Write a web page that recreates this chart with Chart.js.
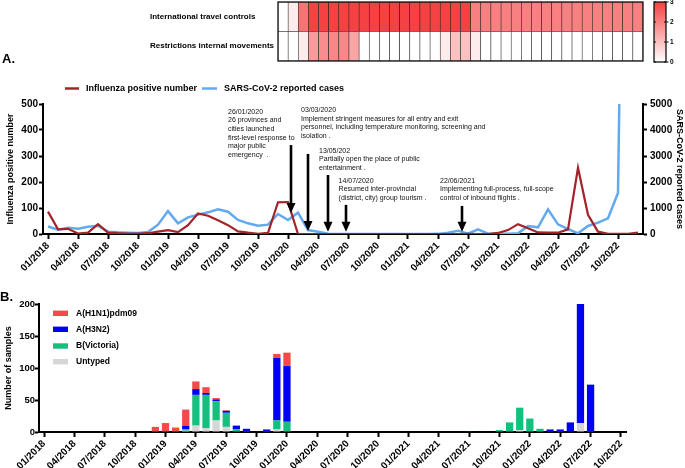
<!DOCTYPE html>
<html>
<head>
<meta charset="utf-8">
<script src="https://cdn.jsdelivr.net/npm/chart.js@4.4.1/dist/chart.umd.min.js"></script>
<style>
  html, body { margin:0; padding:0; background:#ffffff; }
  body { width:685px; height:468px; position:relative; overflow:hidden; font-family:"Liberation Sans", Arial, sans-serif; }
  canvas { position:absolute; left:0; }
  #heat { top:0; }
  #lineA { top:80px; }
  #barB { top:280px; }
</style>
</head>
<body>
<canvas id="heat" width="685" height="66"></canvas>
<canvas id="lineA" width="685" height="195"></canvas>
<canvas id="barB" width="685" height="188"></canvas>
<script>
// ---------------- DATA ----------------
function monthLabels(y0, n) {
  const out = [];
  for (let k = 0; k < n; k++) {
    const y = y0 + Math.floor(k / 12), m = (k % 12) + 1;
    out.push(String(m).padStart(2, '0') + '/' + y);
  }
  return out;
}
const heatMonths = monthLabels(2020, 36);     // 01/2020 .. 12/2022
const monthsA = monthLabels(2018, 60);        // 01/2018 .. 12/2022
const monthsB = monthLabels(2018, 58);        // 01/2018 .. 10/2022
const quarterTicks = ["01/2018","04/2018","07/2018","10/2018","01/2019","04/2019","07/2019","10/2019",
  "01/2020","04/2020","07/2020","10/2020","01/2021","04/2021","07/2021","10/2021",
  "01/2022","04/2022","07/2022","10/2022"];
const heatRowLabels = ["Restrictions internal movements", "International travel controls"];
const colorbarTicks = [0, 1, 2, 3];

// heat levels (0-3), Jan 2020 - Dec 2022
const travelControls = [0,0.3,2.2,3,3,3,3,3,3,3,3,3,3,3,3,3,3,3,3,2,2,2,2,2,2,2,2,2,2,2,2,2,2,2,2,2];
const internalMovements = [0,0,0.3,1.6,1.8,1.9,1.9,1.4,0,0,0,0,0,0,0,0,0.3,1,1,0.3,0,0,0,0,0,0,0,0,0,0,0,0,0,0,0,0];

// Panel A series (monthly, 01/2018 .. 12/2022)
const influenzaPositive = [86,18,20,2,5,38,5,3,2,2,
  3,9,15,7,34,79,70,53,34,10,
  5,1,4,122,123,0,0,0,0,0,
  0,0,0,0,0,0,0,0,0,0,
  0,0,1,0,0,4,15,38,22,6,
  5,5,18,255,74,9,1,1,1,5];
const sarsCov2Cases = [290,167,243,205,282,320,90,64,51,38,
  77,359,880,410,641,744,833,949,859,538,
  410,320,359,769,538,820,154,90,13,3,
  2,1,1,1,1,1,1,1,2,5,
  50,128,13,180,13,10,10,25,308,256,
  949,372,192,26,308,436,603,1577,28000,null];

// Panel B stacked bars (monthly, 01/2018 .. 10/2022)
function sparse(n, entries) { const a = new Array(n).fill(0); for (const k in entries) a[k] = entries[k]; return a; }
const h1n1 = sparse(58, {11:8,12:14,13:7,14:25,15:12,16:9,17:2,18:1,23:6,24:21});
const h3n2 = sparse(58, {14:6,15:9,16:3,17:3,18:3,19:6,20:4,22:3,23:98,24:87,50:3,51:3,52:15,53:241,54:73});
const bVictoria = sparse(58, {14:2,15:48,16:52,17:30,18:22,19:3,23:14,24:15,42:1,45:3,46:15,47:35,48:20,49:5,50:1});
const untyped = sparse(58, {14:2,15:10,16:6,17:18,18:8,19:1,20:1,22:1,23:4,24:1,47:3,48:1,51:1,53:14,54:1});

// Panel A event annotations (x in month index, y in left-axis units)
const events = [
  {arrowAt:24.3, arrowFrom:342, arrowTo:81, textAt:18.0, textTop:470,
   lines:["26/01/2020","26 provinces and","cities launched","first-level response to","major public","emergency  ."]},
  {arrowAt:26.0, arrowFrom:308, arrowTo:12, textAt:25.3, textTop:476,
   lines:["03/03/2020","Implement stringent measures for all entry and exit","personnel, including temperature monitoring, screening and","isolation ."]},
  {arrowAt:28.0, arrowFrom:227, arrowTo:9, textAt:27.1, textTop:320,
   lines:["13/05/202","Partially open the place of public","entertainment ."]},
  {arrowAt:29.8, arrowFrom:112, arrowTo:9, textAt:29.06, textTop:205,
   lines:["14/07/2020","Resumed inter-provincial","(district, city) group tourism ."]},
  {arrowAt:41.4, arrowFrom:108, arrowTo:9, textAt:39.2, textTop:205,
   lines:["22/06/2021","Implementing full-process, full-scope","control of inbound flights ."]}
];

// ---------------- STYLE ----------------
const FONT = '"Liberation Sans", Arial, Helvetica, sans-serif';
Chart.defaults.font.family = FONT;
Chart.defaults.color = '#000';
Chart.defaults.animation = false;
Chart.defaults.events = [];
Chart.defaults.plugins.legend.display = false;
Chart.defaults.plugins.tooltip.enabled = false;

const RED_LINE = '#a3232a';
const BLUE_LINE = '#63a9f0';
const C_H1N1 = '#f54a4a';
const C_H3N2 = '#0000f5';
const C_BVIC = '#13c07e';
const C_UNT = '#d6d6d6';

function levelColor(v) {
  const t = v / 3;
  const r = Math.round(255 - 10 * t), g = Math.round(255 - 190 * t);
  return `rgb(${r},${g},${g})`;
}
const plainNumber = v => String(v);

// ---------------- HEATMAP ----------------
const heatPlugin = {
  id: 'heatDecor',
  afterDraw(chart) {
    const {ctx, chartArea: a} = chart;
    ctx.save();
    ctx.strokeStyle = '#111'; ctx.lineWidth = 1.3;
    ctx.strokeRect(a.left, a.top, a.right - a.left, a.bottom - a.top);
    ctx.font = 'bold 8px ' + FONT; ctx.fillStyle = '#000';
    ctx.textAlign = 'left'; ctx.textBaseline = 'middle';
    chart.data.datasets.forEach((ds, i) => {
      const bar = chart.getDatasetMeta(i).data[0];
      ctx.fillText(ds.label, 150, (bar.y + bar.base) / 2);
    });
    const cx0 = 654, cx1 = 666, cy0 = 2, cy1 = 62;
    const grad = ctx.createLinearGradient(0, cy0, 0, cy1);
    grad.addColorStop(0, levelColor(3)); grad.addColorStop(1, levelColor(0));
    ctx.fillStyle = grad; ctx.fillRect(cx0, cy0, cx1 - cx0, cy1 - cy0);
    ctx.strokeStyle = '#111'; ctx.lineWidth = 1.3;
    ctx.strokeRect(cx0, cy0, cx1 - cx0, cy1 - cy0);
    ctx.font = 'bold 6.5px ' + FONT; ctx.fillStyle = '#000';
    colorbarTicks.forEach(t => {
      const y = cy1 - (cy1 - cy0) * t / 3;
      ctx.lineWidth = 1;
      ctx.beginPath(); ctx.moveTo(cx1 - 2, y); ctx.lineTo(cx1 + 2.5, y); ctx.stroke();
      ctx.beginPath(); ctx.moveTo(cx0, y); ctx.lineTo(cx0 + 2, y); ctx.stroke();
      ctx.fillText(String(t), 670, y);
    });
    ctx.font = 'bold 13px ' + FONT; ctx.textBaseline = 'alphabetic';
    ctx.fillText('A.', 2, 63);
    ctx.restore();
  }
};

new Chart(document.getElementById('heat'), {
  type: 'bar',
  data: {
    labels: heatMonths,
    datasets: [
      {label: heatRowLabels[0], data: internalMovements.map(() => [0, 1]), backgroundColor: internalMovements.map(levelColor)},
      {label: heatRowLabels[1], data: travelControls.map(() => [1, 2]), backgroundColor: travelControls.map(levelColor)}
    ]
  },
  options: {
    responsive: false, devicePixelRatio: 1,
    layout: {padding: {left: 278, right: 42, top: 2, bottom: 5}},
    datasets: {bar: {barPercentage: 1, categoryPercentage: 1, borderColor: '#222', borderWidth: 0.6, borderSkipped: false, grouped: false}},
    scales: {
      x: {display: false},
      y: {display: false, min: 0, max: 2}
    }
  },
  plugins: [heatPlugin]
});

// ---------------- PANEL A ----------------
const annotPlugin = {
  id: 'annotA',
  afterDraw(chart) {
    const {ctx} = chart;
    const xs = chart.scales.x, ys = chart.scales.y;
    ctx.save();
    const ly = 8.5;
    ctx.lineWidth = 2.5;
    ctx.strokeStyle = RED_LINE; ctx.beginPath(); ctx.moveTo(65, ly); ctx.lineTo(79, ly); ctx.stroke();
    ctx.strokeStyle = BLUE_LINE; ctx.beginPath(); ctx.moveTo(202, ly); ctx.lineTo(217, ly); ctx.stroke();
    ctx.font = 'bold 9px ' + FONT; ctx.fillStyle = '#000';
    ctx.textAlign = 'left'; ctx.textBaseline = 'middle';
    ctx.fillText(chart.data.datasets[0].label, 86, ly);
    ctx.fillText(chart.data.datasets[1].label, 224, ly);
    events.forEach(ev => {
      const ax = xs.getPixelForValue(ev.arrowAt);
      const y0 = ys.getPixelForValue(ev.arrowFrom), y1 = ys.getPixelForValue(ev.arrowTo);
      ctx.strokeStyle = '#000'; ctx.fillStyle = '#000'; ctx.lineWidth = 2.6;
      ctx.beginPath(); ctx.moveTo(ax, y0); ctx.lineTo(ax, y1 - 8); ctx.stroke();
      ctx.beginPath(); ctx.moveTo(ax - 4.5, y1 - 10); ctx.lineTo(ax + 4.5, y1 - 10); ctx.lineTo(ax, y1); ctx.closePath(); ctx.fill();
      const tx = xs.getPixelForValue(ev.textAt), ty = ys.getPixelForValue(ev.textTop);
      ctx.font = '7px ' + FONT; ctx.fillStyle = '#111';
      ctx.textAlign = 'left'; ctx.textBaseline = 'middle';
      ev.lines.forEach((l, k) => ctx.fillText(l, tx, ty + k * 8.6));
    });
    ctx.restore();
  }
};

function quarterCallback(v) {
  const l = this.getLabelForValue(v);
  return quarterTicks.includes(l) ? l : null;
}

new Chart(document.getElementById('lineA'), {
  type: 'line',
  data: {
    labels: monthsA,
    datasets: [
      {label: 'Influenza positive number', data: influenzaPositive, yAxisID: 'y', borderColor: RED_LINE, borderWidth: 2.2, pointRadius: 0, tension: 0},
      {label: 'SARS-CoV-2 reported cases', data: sarsCov2Cases, yAxisID: 'y2', borderColor: BLUE_LINE, borderWidth: 2.5, pointRadius: 0, tension: 0}
    ]
  },
  options: {
    responsive: false, devicePixelRatio: 1,
    layout: {padding: {left: 0, right: 0, top: 24, bottom: 0}},
    scales: {
      x: {
        type: 'category', offset: true,
        afterFit(s) { s.height = 41; },
        border: {display: true, color: '#000', width: 2},
        grid: {display: true, drawOnChartArea: false, drawTicks: true, tickLength: 5, tickColor: '#000', tickWidth: 2, offset: false},
        ticks: {autoSkip: false, maxRotation: 45, minRotation: 45, padding: 1, font: {size: 10, weight: 'bold'}, color: '#000', callback: quarterCallback}
      },
      y: {
        position: 'left', min: 0, max: 500,
        afterFit(s) { s.width = 43; },
        border: {display: true, color: '#000', width: 2},
        grid: {display: true, drawOnChartArea: false, drawTicks: true, tickLength: 4, tickColor: '#000', tickWidth: 2},
        ticks: {stepSize: 100, padding: 1, font: {size: 10, weight: 'bold'}, color: '#000', callback: plainNumber},
        title: {display: true, text: 'Influenza positive number', font: {size: 9, weight: 'bold'}, color: '#000', padding: {top: 5.5, bottom: 0}}
      },
      y2: {
        position: 'right', min: 0, max: 5000,
        afterFit(s) { s.width = 42; },
        border: {display: true, color: '#000', width: 2},
        grid: {display: true, drawOnChartArea: false, drawTicks: true, tickLength: 4, tickColor: '#000', tickWidth: 2},
        ticks: {stepSize: 1000, padding: 3, font: {size: 10, weight: 'bold'}, color: '#000', callback: plainNumber},
        title: {display: true, text: 'SARS-CoV-2 reported cases', font: {size: 9, weight: 'bold'}, color: '#000', padding: {top: 0, bottom: 0}}
      }
    }
  },
  plugins: [annotPlugin]
});

// ---------------- PANEL B ----------------
const legendB = {
  id: 'legendB',
  afterDraw(chart) {
    const {ctx} = chart;
    ctx.save();
    const rows = [33.3, 49.3, 66, 81.7];
    const order = [3, 2, 1, 0];
    ctx.font = 'bold 8.5px ' + FONT; ctx.textAlign = 'left'; ctx.textBaseline = 'middle';
    order.forEach((di, k) => {
      const ds = chart.data.datasets[di];
      ctx.fillStyle = ds.backgroundColor;
      ctx.fillRect(53, rows[k] - 2.7, 15, 5.4);
      ctx.fillStyle = '#000';
      ctx.fillText(ds.label, 76, rows[k]);
    });
    ctx.font = 'bold 13px ' + FONT; ctx.textBaseline = 'alphabetic';
    ctx.fillText('B.', 0, 20.7);
    ctx.restore();
  }
};

new Chart(document.getElementById('barB'), {
  type: 'bar',
  data: {
    labels: monthsB,
    datasets: [
      {label: 'Untyped', data: untyped, backgroundColor: C_UNT},
      {label: 'B(Victoria)', data: bVictoria, backgroundColor: C_BVIC},
      {label: 'A(H3N2)', data: h3n2, backgroundColor: C_H3N2},
      {label: 'A(H1N1)pdm09', data: h1n1, backgroundColor: C_H1N1}
    ]
  },
  options: {
    responsive: false, devicePixelRatio: 1,
    layout: {padding: {left: 0, right: 59, top: 24, bottom: 0}},
    datasets: {bar: {barPercentage: 0.72, categoryPercentage: 1, clip: 0, borderWidth: 0}},
    scales: {
      x: {
        type: 'category', stacked: true, offset: true,
        afterFit(s) { s.height = 36; },
        border: {display: true, color: '#000', width: 2},
        grid: {display: true, drawOnChartArea: false, drawTicks: true, tickLength: 5, tickColor: '#000', tickWidth: 2, offset: false},
        ticks: {autoSkip: false, maxRotation: 45, minRotation: 45, padding: 1, font: {size: 10, weight: 'bold'}, color: '#000', callback: quarterCallback}
      },
      y: {
        stacked: true, min: 0, max: 200,
        afterFit(s) { s.width = 39; },
        border: {display: true, color: '#000', width: 2},
        grid: {display: true, drawOnChartArea: false, drawTicks: true, tickLength: 4, tickColor: '#000', tickWidth: 2},
        ticks: {stepSize: 50, padding: 0, font: {size: 9.5, weight: 'bold'}, color: '#000', callback: plainNumber},
        title: {display: true, text: 'Number of samples', font: {size: 9, weight: 'bold'}, color: '#000', padding: {top: 3.5, bottom: 0}}
      }
    }
  },
  plugins: [legendB]
});
</script>
</body>
</html>
